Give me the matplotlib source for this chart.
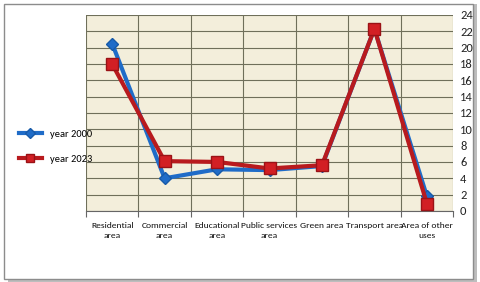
import matplotlib
matplotlib.use("Agg")
import numpy as np
from matplotlib import pyplot as plt
from matplotlib import font_manager
from matplotlib.patches import Rectangle

names = set(f.name for f in font_manager.fontManager.ttflist)
fam = 'Liberation Sans'
for cand in ['Carlito', 'Liberation Sans Narrow', 'Archivo Narrow', 'Asap Condensed']:
    if cand in names:
        fam = cand
        break
plt.rcParams['font.family'] = [fam, 'DejaVu Sans']

categories = ["Residential\narea", "Commercial\narea", "Educational\narea",
              "Public services\narea", "Green area", "Transport area",
              "Area of other\nuses"]
year_2000 = [20.5, 4.0, 5.1, 5.0, 5.5, 22.3, 1.8]
year_2023 = [18.0, 6.1, 6.0, 5.2, 5.6, 22.3, 0.9]
y_ticks = list(range(0, 25, 2))

fig = plt.figure(figsize=(4.8, 2.82), dpi=100)
# outer chart frame with a soft shadow
fig.patches.append(Rectangle((0.016, 0.0), 0.978, 0.985, transform=fig.transFigure,
                             facecolor='#bdbdbd', edgecolor='none', zorder=-3))
fig.patches.append(Rectangle((0.008, 0.012), 0.978, 0.975, transform=fig.transFigure,
                             facecolor='white', edgecolor='#8c8c8c', lw=1.0, zorder=-2))

ax = fig.add_axes([0.179, 0.252, 0.765, 0.695])
ax.set_facecolor('#f3eedb')
x = np.arange(len(categories))

ax.plot(x, year_2000, color='#1f6cc8', lw=3, marker='D', ms=6,
        mfc='#1f6cc8', mec='#175aa8', label='year 2000', zorder=3)
ax.plot(x, year_2023, color='#b81a1e', lw=3, marker='s', ms=8,
        mfc='#d21f24', mec='#9a1216', label='year 2023', zorder=4)

ax.set_xlim(-0.5, len(categories) - 0.5)
ax.set_ylim(0, 24)
ax.yaxis.tick_right()
ax.set_yticks(y_ticks)
ax.set_xticks(np.arange(len(categories) + 1) - 0.5, minor=False)
ax.set_xticklabels([])
ax.set_xticks(x, minor=True)
lab_size = 6.0 if fam == 'Liberation Sans' else 6.8
ax.set_xticklabels(categories, minor=True, fontsize=lab_size, color='#111111',
                   linespacing=1.5)
ax.tick_params(axis='x', which='minor', length=0, pad=8)
ax.tick_params(axis='x', which='major', length=4, color='#666666')
ax.tick_params(axis='y', length=0, labelsize=9, pad=5, labelcolor='#222222')
ax.grid(True, axis='y', color='#6f6f5a', lw=0.8)
ax.grid(True, axis='x', which='major', color='#6f6f5a', lw=0.8)
ax.set_axisbelow(True)
for s in ['top', 'right', 'left']:
    ax.spines[s].set_visible(False)
ax.spines['bottom'].set_color('#666666')

fig.legend(loc='center left', bbox_to_anchor=(0.02, 0.48), frameon=False,
           prop={'size': 7.5}, handlelength=2.2, labelspacing=1.5,
           markerscale=0.8)

plt.savefig('out.png', dpi=100)
